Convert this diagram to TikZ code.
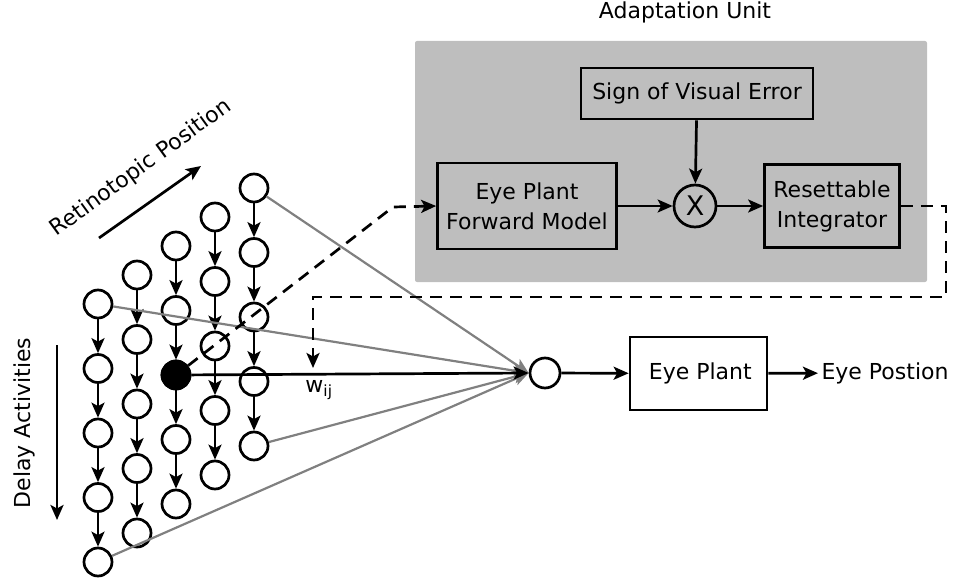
\documentclass[tikz,border=0pt]{standalone}
\usepackage{fontspec}
\setmainfont{DejaVu Sans}
\usetikzlibrary{arrows.meta}

\newcommand*{\colsep}{39}
\newcommand*{\colrise}{29}
\newcommand*{\rowsep}{64.5}
\definecolor{unitgray}{RGB}{190,190,190}
\definecolor{wgray}{RGB}{128,128,128}

\begin{document}
\begin{tikzpicture}
[
	x=1pt,y=-1pt,
	font=\fontsize{22}{30}\selectfont,
	neuron/.style={circle,draw,line width=2.7pt,inner sep=0pt,minimum size=28pt},
	block/.style={rectangle,draw,line width=2.7pt,align=center,inner sep=0pt},
	arr/.style={-{Stealth[length=15pt,width=13pt,inset=3.5pt]},line width=2.7pt},
	weight/.style={-{Stealth[length=15pt,width=13pt,inset=3.5pt]},line width=2.2pt,wgray},
	feedback/.style={arr,dash pattern=on 12pt off 8pt}
]
	\useasboundingbox (0,0) rectangle (953,583);

	% adaptation unit
	\node[fill=unitgray,rounded corners=2pt,minimum width=512pt,minimum height=241pt,inner sep=0pt] (unit) at (671,161.5) {};
	\node (unitlabel) at (685,12) {Adaptation Unit};
	\node[block,minimum width=232pt,minimum height=51pt] (signerr) at (697,93.5) {Sign of Visual Error};
	\node[block,minimum width=179pt,minimum height=86pt] (fwdmodel) at (527,206) {Eye Plant\\Forward Model};
	\node[neuron,minimum size=42pt,font=\fontsize{27}{30}\selectfont] (mult) at (695,206) {X};
	\node[block,minimum width=135pt,minimum height=83pt] (integ) at (832,206) {Resettable\\Integrator};

	\draw[arr] (signerr) -- (mult);
	\draw[arr] (fwdmodel) -- (mult);
	\draw[arr] (mult) -- (integ);

	% delay lines
	\foreach \c in {0,...,4}
		\foreach \r in {0,...,4}
			\node[neuron] (d-\c-\r) at ({98+\colsep*\c},{304-\colrise*\c+\rowsep*\r}) {};
	\node[neuron,fill] (active) at (d-2-2) {};
	\foreach \c in {0,...,4}
		\foreach \r [count=\s from 1] in {0,...,3}
			\draw[arr] (d-\c-\r) -- (d-\c-\s);

	% axis labels
	\node[rotate=36] (retlabel) at (141,168) {Retinotopic Position};
	\coordinate (ret-a) at (99,238);
	\coordinate (ret-b) at (201,166);
	\draw[arr] (ret-a) -- (ret-b);
	\node[rotate=90] (delaylabel) at (24,423) {Delay Activities};
	\coordinate (delay-a) at (57,345);
	\coordinate (delay-b) at (57,520);
	\draw[arr] (delay-a) -- (delay-b);

	% weights
	\node[neuron,minimum size=30pt] (sum) at (545,373) {};
	\draw[weight] (d-0-0) -- (sum.west);
	\draw[weight] (d-4-0) -- (sum.west);
	\draw[weight] (d-0-4) -- (sum.west);
	\draw[weight] (d-4-4) -- (sum.west);
	\draw[arr] (active) -- (sum.west);

	% eye plant
	\node[block,minimum width=137pt,minimum height=73pt] (plant) at (698.5,373.5) {\,Eye Plant};
	\node (eyepos) at (885,373) {Eye Postion};
	\draw[arr] (sum) -- (plant);
	\draw[arr] (plant) -- (eyepos);

	% dashed paths
	\coordinate (tap) at (393,207);
	\draw[feedback] (active) -- (tap) -- (fwdmodel.west);
	\coordinate (wij) at (313,368);
	\draw[feedback] (integ.east) -- ++(45,0) -- ++(0,91) -| (wij);
	\node (wlabel) at (319,390) {w\textsubscript{ij}};

\end{tikzpicture}
\end{document}
